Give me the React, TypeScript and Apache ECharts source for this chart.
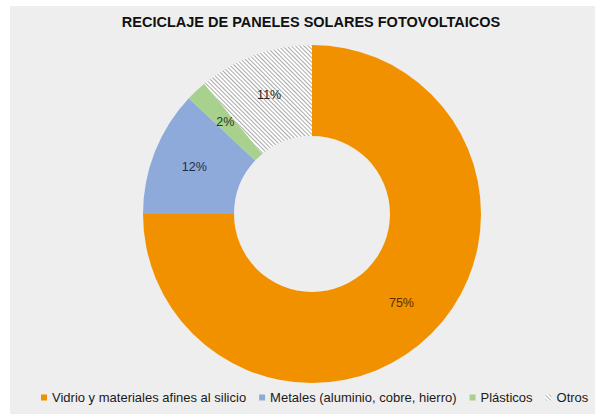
import React, { useEffect, useRef } from "react";
import * as echarts from "echarts";

const titleText = "RECICLAJE DE PANELES SOLARES FOTOVOLTAICOS";
const categories = [
  "Vidrio y materiales afines al silicio",
  "Metales (aluminio, cobre, hierro)",
  "Plásticos",
  "Otros",
];
const values = [75, 12, 2, 11];
const colors = ["#f29100", "#8eaadb", "#a9d18e", "#ffffff"];
const labelColors = ["#5a2e00", "#1f2d4a", "#1e3a1c", "#222222"];

export default function App() {
  const ref = useRef<HTMLDivElement>(null);
  useEffect(() => {
    if (!ref.current) return;
    const chart = echarts.init(ref.current, null, { renderer: "svg" });
    const data = categories.map((name, i) => {
      const item: any = {
        name,
        value: values[i],
        itemStyle: { color: colors[i] },
        label: { color: labelColors[i] },
      };
      if (name === "Otros") {
        item.itemStyle.decal = {
          symbol: "rect",
          symbolSize: 1,
          dashArrayX: [1, 0],
          dashArrayY: [1, 1.5],
          rotation: Math.PI / 4,
          color: "#aaaaaa",
          backgroundColor: "#f8f8f8",
        };
      }
      return item;
    });
    chart.setOption({
      animation: false,
      backgroundColor: "#ffffff",
      graphic: [
        {
          type: "rect",
          z: -10,
          shape: { x: 10, y: 6, width: 585, height: 408 },
          style: { fill: "#eeeeee" },
        },
      ],
      title: {
        text: titleText,
        left: 306,
        textAlign: "center",
        top: 9,
        textStyle: {
          fontFamily: "Liberation Sans, Arial, sans-serif",
          fontSize: 14.5,
          fontWeight: "bold",
          color: "#111111",
        },
      },
      legend: {
        bottom: 5,
        left: 36,
        icon: "rect",
        itemWidth: 6,
        itemHeight: 6,
        itemGap: 13,
        data: categories,
        textStyle: {
          fontFamily: "Liberation Sans, Arial, sans-serif",
          fontSize: 13,
          color: "#1a1a1a",
        },
      },
      series: [
        {
          type: "pie",
          center: [312, 214],
          radius: [78, 169],
          startAngle: 90,
          clockwise: true,
          avoidLabelOverlap: false,
          label: {
            show: true,
            position: "inside",
            formatter: "{c}%",
            fontFamily: "Liberation Sans, Arial, sans-serif",
            fontSize: 12.5,
          },
          labelLine: { show: false },
          emphasis: { disabled: true },
          data,
        },
      ],
    });
    return () => chart.dispose();
  }, []);
  return (
    <div
      ref={ref}
      style={{ position: "absolute", left: 0, top: 0, width: 595, height: 414 }}
    />
  );
}
